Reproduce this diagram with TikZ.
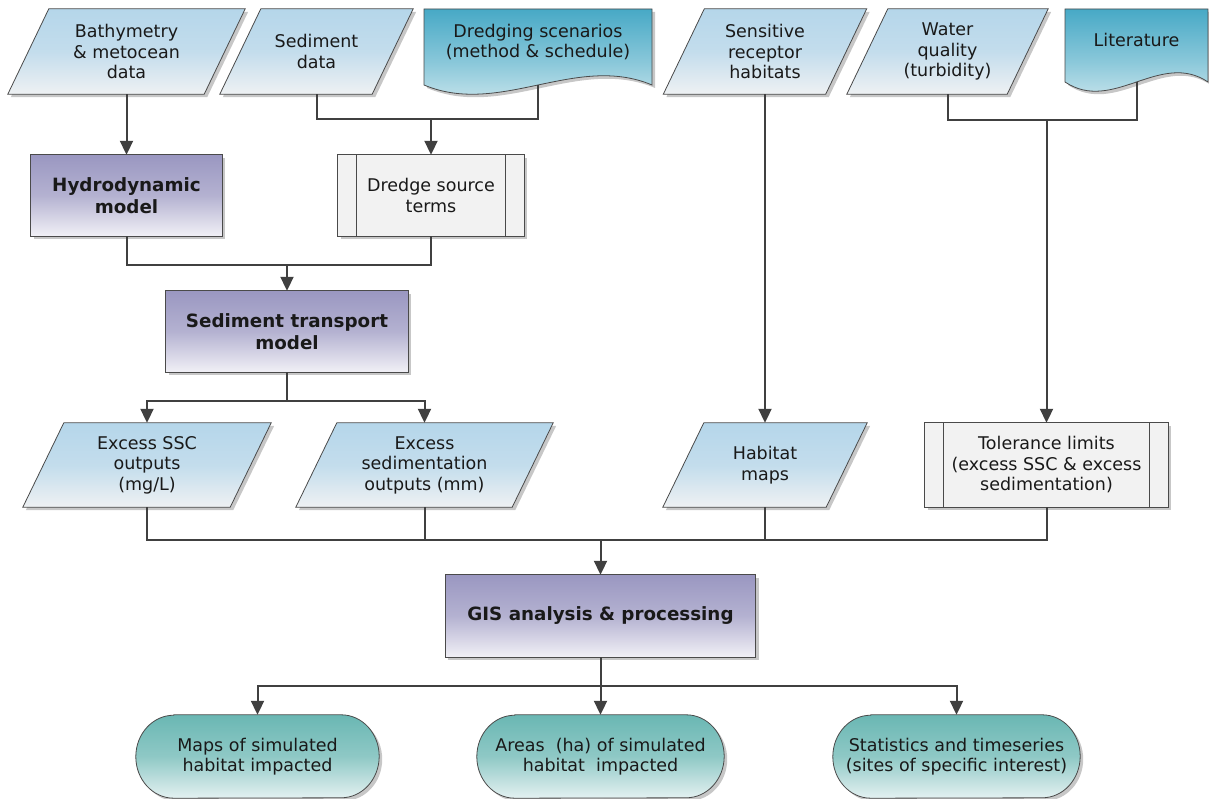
\documentclass[tikz,border=0pt]{standalone}
\usepackage{fontspec}
\setmainfont{DejaVu Sans}
\usetikzlibrary{arrows.meta,shadows,backgrounds,calc}
\definecolor{linec}{HTML}{404040}
\definecolor{edgec}{HTML}{4A4A4A}
\definecolor{paratop}{HTML}{B5D6EA}
\definecolor{parabot}{HTML}{EEF1F3}
\definecolor{doctop}{HTML}{47A9C6}
\definecolor{docbot}{HTML}{DDEEF2}
\definecolor{proctop}{HTML}{9A97C1}
\definecolor{procbot}{HTML}{F1F0F6}
\definecolor{predefc}{HTML}{F2F2F2}
\definecolor{termtop}{HTML}{6AB7B3}
\definecolor{termbot}{HTML}{E4F1F1}
\tikzset{
  txt/.style={align=center, font=\fontsize{17.5}{20.5}\selectfont, inner sep=0pt, text=black!90},
  btxt/.style={txt, font=\fontsize{18.3}{22}\selectfont\bfseries},
  shad/.style={drop shadow={shadow xshift=3pt, shadow yshift=-3pt, opacity=0.22, fill=black}},
  parashape/.style={shad, draw=edgec, line width=0.8pt, top color=paratop, bottom color=parabot, middle color=paratop!75!parabot},
  docshape/.style={shad, draw=edgec, line width=0.8pt, top color=doctop, bottom color=docbot, middle color=doctop!55!docbot},
  procshape/.style={shad, draw=edgec, line width=0.8pt, top color=proctop, bottom color=procbot, middle color=proctop!70!procbot},
  predefshape/.style={shad, draw=edgec, line width=0.8pt, fill=predefc},
  termshape/.style={shad, draw=edgec, line width=0.8pt, top color=termtop, bottom color=termbot, middle color=termtop!70!termbot},
  thinline/.style={draw=edgec, line width=0.8pt},
  conn/.style={draw=linec, line width=2pt},
  arr/.style={conn, -{Triangle[width=13pt,length=14pt]}}
}
\newcommand\drawpara[1]{\path[parashape] ($(#1.north west)+(41pt,0)$) -- (#1.north east) -- ($(#1.south east)+(-41pt,0)$) -- (#1.south west) -- cycle;}
\newcommand\drawpredef[1]{\path[predefshape] (#1.north west) rectangle (#1.south east);
  \draw[thinline] ($(#1.north west)+(19pt,0)$) -- ($(#1.south west)+(19pt,0)$);
  \draw[thinline] ($(#1.north east)+(-19pt,0)$) -- ($(#1.south east)+(-19pt,0)$);}
\newcommand\drawterm[1]{\path[termshape] ($(#1.north west)+(38pt,0)$) -- ($(#1.north east)+(-38pt,0)$) arc[start angle=90, end angle=-90, x radius=38pt, y radius=41.5pt] -- ($(#1.south west)+(38pt,0)$) arc[start angle=270, end angle=90, x radius=38pt, y radius=41.5pt] -- cycle;}
\begin{document}
\begin{tikzpicture}[x=1pt, y=-1pt]
\useasboundingbox (0,0) rectangle (1209,799);
% ---------- nodes ----------
\node[txt, minimum width=237pt, minimum height=85pt] (bathy) at (126.5,51.5) {Bathymetry\\\& metocean\\data};
\node[txt, minimum width=193pt, minimum height=85pt] (sed) at (316.5,51.5) {Sediment\\data};
\node[txt, minimum width=228pt, minimum height=66pt] (dscn) at (538,42) {Dredging scenarios\\(method \& schedule)};
\node[txt, minimum width=203pt, minimum height=85pt] (sens) at (765,51.5) {Sensitive\\receptor\\habitats};
\node[txt, minimum width=201pt, minimum height=85pt] (wq) at (947.5,51.5) {Water\\quality\\(turbidity)};
\node[txt, minimum width=143pt, minimum height=62pt] (lit) at (1136.5,40) {Literature};
\node[btxt, minimum width=191pt, minimum height=81pt] (hydro) at (126.5,195.5) {Hydrodynamic\\model};
\node[txt, minimum width=186pt, minimum height=81pt] (dsrc) at (431,195.5) {Dredge source\\terms};
\node[btxt, minimum width=242pt, minimum height=81pt] (sedtr) at (287,331.5) {Sediment transport\\model};
\node[txt, minimum width=248pt, minimum height=84pt] (ssc) at (147,465) {Excess SSC\\outputs\\(mg/L)};
\node[txt, minimum width=257pt, minimum height=84pt] (sedout) at (424.5,465) {Excess\\sedimentation\\outputs (mm)};
\node[txt, minimum width=204pt, minimum height=84pt] (hab) at (765,465) {Habitat\\maps};
\node[txt, minimum width=243pt, minimum height=84pt] (tol) at (1046.5,465) {Tolerance limits\\(excess SSC \& excess\\sedimentation)};
\node[btxt, minimum width=310pt, minimum height=82pt] (gis) at (600.5,616) {GIS analysis \& processing};
\node[txt, minimum width=243pt, minimum height=83pt] (t1) at (257.5,756.5) {Maps of simulated\\habitat impacted};
\node[txt, minimum width=247pt, minimum height=83pt] (t2) at (600.5,756.5) {Areas\ \ (ha) of simulated\\habitat\ \ impacted};
\node[txt, minimum width=247pt, minimum height=83pt] (t3) at (956.5,756.5) {Statistics and timeseries\\(sites of specific interest)};
% ---------- shapes ----------
\begin{scope}[on background layer]
  \drawpara{bathy}\drawpara{sed}\drawpara{sens}\drawpara{wq}
  \drawpara{ssc}\drawpara{sedout}\drawpara{hab}
  \path[docshape] (424,9) -- (652,9) -- (652,85) .. controls (576,53) and (500,117) .. (424,85) -- cycle;
  \path[docshape] (1065,9) -- (1208,9) -- (1208,82) .. controls (1160,50) and (1113,114) .. (1065,82) -- cycle;
  \path[procshape] (hydro.north west) rectangle (hydro.south east);
  \path[procshape] (sedtr.north west) rectangle (sedtr.south east);
  \path[procshape] (gis.north west) rectangle (gis.south east);
  \drawpredef{dsrc}\drawpredef{tol}
  \drawterm{t1}\drawterm{t2}\drawterm{t3}
\end{scope}
% ---------- connectors ----------
\coordinate (dscnb) at (538,85);
\coordinate (litb) at (1136.5,82);
\coordinate (j1) at (431,119);
\coordinate (j2) at (287,265);
\coordinate (j3) at (287,401);
\coordinate (j4) at (1046.5,120);
\coordinate (j5) at (600.5,540);
\coordinate (j6) at (600.5,686);
\draw[arr] (bathy.south) -- (hydro.north);
\draw[conn] (sed.south) |- (j1) -| (dscnb);
\draw[arr] (j1) -- (dsrc.north);
\draw[conn] (hydro.south) |- (j2) -| (dsrc.south);
\draw[arr] (j2) -- (sedtr.north);
\draw[conn] (sedtr.south) -- (j3);
\draw[arr] (j3) -| (ssc.north);
\draw[arr] (j3) -| (sedout.north);
\draw[arr] (sens.south) -- (hab.north);
\draw[conn] (wq.south) |- (j4) -| (litb);
\draw[arr] (j4) -- (tol.north);
\draw[conn] (ssc.south) |- (tol.south |- j5) -- (tol.south);
\draw[conn] (sedout.south) -- (sedout.south |- j5);
\draw[conn] (hab.south) -- (hab.south |- j5);
\draw[arr] (j5) -- (gis.north);
\draw[conn] (gis.south) -- (j6);
\draw[arr] (j6) -| (t1.north);
\draw[arr] (j6) -- (t2.north);
\draw[arr] (j6) -| (t3.north);
\end{tikzpicture}
\end{document}
